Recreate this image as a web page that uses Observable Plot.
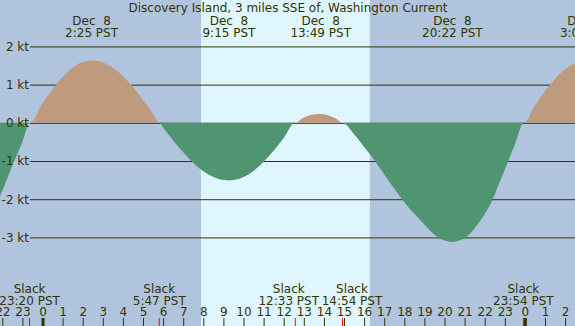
<!DOCTYPE html>
<html><head><meta charset="utf-8">
<script src="https://cdn.jsdelivr.net/npm/d3@7"></script>
<script src="https://cdn.jsdelivr.net/npm/@observablehq/plot@0.6"></script>
<style>body{margin:0;background:#b0c4de;overflow:hidden}</style>
</head><body><div id="chart"></div>
<script>
const title = "Discovery Island, 3 miles SSE of, Washington Current";

// current speed (kt), by hour of Dec 8 (PST)
const hours = [-2.2, -2.0, -1.5, -1.0, -0.62, 0, 0.5, 1, 1.5, 2, 2.45, 3, 3.5, 4, 4.5, 5, 5.5, 5.81,
  6, 6.5, 7, 7.5, 8, 8.5, 9, 9.27, 9.5, 10, 10.5, 11, 11.5, 12, 12.56,
  13, 13.4, 13.8, 14.2, 14.6, 14.92,
  15.5, 16, 16.5, 17, 17.5, 18, 18.5, 19, 19.5, 20, 20.4, 20.8, 21.07, 21.5, 22, 22.4, 22.8, 23.17, 23.5, 23.95,
  24.5, 25, 25.5, 26, 26.5, 26.8];
const knots = [-2.02, -1.78, -1.12, -0.50, 0, 0.51, 0.88, 1.20, 1.44, 1.59, 1.63, 1.58, 1.44, 1.22, 0.94, 0.60, 0.24, 0,
  -0.12, -0.46, -0.77, -1.05, -1.27, -1.42, -1.50, -1.51, -1.50, -1.42, -1.26, -1.02, -0.73, -0.40, 0,
  0.14, 0.21, 0.23, 0.20, 0.11, 0,
  -0.30, -0.63, -0.97, -1.35, -1.72, -2.08, -2.38, -2.66, -2.93, -3.08, -3.12, -3.07, -3.00, -2.76, -2.39, -2.00, -1.48, -1.00, -0.57, 0,
  0.45, 0.83, 1.15, 1.40, 1.56, 1.60];

// daylight
const sunrise = 7.886;
const sunset = 16.29;
const nightStarts = [-3, 16.29];
const nightEnds = [7.886, 28];

// maximum current events
const maxTimes = [2.417, 9.25, 13.817, 20.367, 27.033];
const maxDates = ["Dec\u00a0\u00a08", "Dec\u00a0\u00a08", "Dec\u00a0\u00a08", "Dec\u00a0\u00a08", "Dec\u00a0\u00a09"];
const maxClock = ["2:25", "9:15", "13:49", "20:22", "3:02"];

// slack events
const slackTimes = [-0.667, 5.783, 12.55, 14.9, 23.9];
const slackClock = ["23:20", "5:47", "12:33", "14:54", "23:54"];

const yTicks = [2, 1, 0, -1, -2, -3];
const hourTicks = [-2, -1, 0, 1, 2, 3, 4, 5, 6, 7, 8, 9, 10, 11, 12, 13, 14, 15, 16, 17, 18, 19, 20, 21, 22, 23, 24, 25, 26];

const data = hours.map((t, i) => ({t, v: knots[i]}));
const ink = "#333300";
const fs = 12;
// labels that the original pushes apart so they do not collide
const slackNudge = [0, 0, -6.5, 9.5, 0];

const chart = Plot.plot({
  width: 575, height: 326, margin: 0,
  x: {domain: [-2.1144, 26.4925], axis: null},
  y: {domain: [-5.319, 3.215], axis: null},
  style: {fontFamily: "DejaVu Sans", fontSize: "12px", background: "#b0c4de", color: ink, overflow: "hidden"},
  marks: [
    Plot.rect([0], {x1: () => sunrise, x2: () => sunset, fill: "#dff6ff"}),
    Plot.rect(nightStarts.map((s, i) => i), {x1: i => nightStarts[i], x2: i => nightEnds[i], fill: "#b0c4de"}),
    Plot.ruleY(yTicks, {y: d => d, stroke: ink, insetLeft: 30}),
    Plot.areaY(data, {x: "t", y: d => Math.max(0, d.v), fill: "#bd9b7c", curve: "monotone-x"}),
    Plot.areaY(data, {x: "t", y: d => Math.min(0, d.v), fill: "#509571", curve: "monotone-x"}),
    Plot.text(yTicks, {y: d => d, text: d => `${d} kt`, frameAnchor: "left", textAnchor: "end", dx: 28.5, fill: ink, fontSize: fs}),
    Plot.text([title], {text: d => d, frameAnchor: "top", lineAnchor: "bottom", dy: 11.5, fill: ink, fontSize: fs}),
    Plot.text(maxTimes.map((t, i) => i), {x: i => maxTimes[i], text: i => `${maxDates[i]}\n${maxClock[i]} PST`, frameAnchor: "top", lineAnchor: "bottom", dy: 36, lineHeight: 1, fill: ink, fontSize: fs}),
    ...slackTimes.map((t, i) => Plot.text([i], {x: j => slackTimes[j], text: j => `Slack\n${slackClock[j]} PST`, frameAnchor: "bottom", lineAnchor: "bottom", dy: -22, dx: slackNudge[i], lineHeight: 1, fill: ink, fontSize: fs})),
    Plot.text(hourTicks, {x: d => d, text: d => String(((d % 24) + 24) % 24), frameAnchor: "bottom", lineAnchor: "bottom", dy: -10.3, fill: ink, fontSize: fs}),
    Plot.ruleX(hourTicks.filter(d => d % 24 !== 0), {x: d => d, insetTop: 318, stroke: ink}),
    Plot.ruleX(hourTicks.filter(d => d % 24 === 0), {x: d => d, insetTop: 318, stroke: ink, strokeWidth: 3}),
    Plot.ruleX(slackTimes, {x: d => d, insetTop: 318, stroke: "#ff0000"})
  ]
});
document.getElementById("chart").appendChild(chart);
</script>
</body></html>
